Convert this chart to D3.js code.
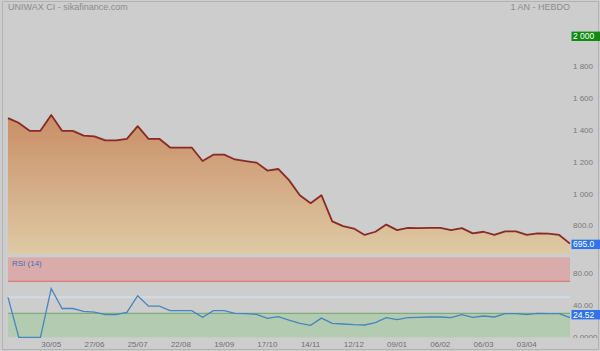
<!DOCTYPE html>
<html>
<head>
<meta charset="utf-8">
<script src="https://cdn.jsdelivr.net/npm/d3@7"></script>
<style>
  html, body { margin: 0; padding: 0; background: #cdcdcd; }
  svg { display: block; font-family: "Liberation Sans", Arial, sans-serif; }
</style>
</head>
<body>
<div id="chart"></div>
<script>
// weekly closes, 1 year
const prices = [1485, 1455, 1405, 1405, 1505, 1405, 1405, 1375, 1370, 1345,
	1345, 1355, 1435, 1355, 1355, 1300, 1300, 1300, 1215, 1255,
	1255, 1225, 1215, 1205, 1155, 1165, 1095, 1000, 950, 1000,
	835, 805, 790, 750, 770, 815, 780, 795, 793, 795,
	795, 780, 793, 760, 770, 750, 772, 772, 750, 760,
	758, 750, 695];
const rsi = [50, 0, 0, 0, 61, 36, 36, 32.5, 31.6, 28.3,
	28.3, 31.2, 52, 39, 39, 33.3, 33.3, 33.3, 25, 33.3,
	33.3, 30, 29.6, 28.7, 23.7, 25.8, 21.6, 17.5, 15, 24,
	17.5, 16.6, 15.8, 15.4, 18.3, 24.5, 22, 24.5, 25, 25.4,
	25.4, 24.5, 28.3, 25, 26.6, 25.4, 29.6, 29.6, 28.3, 30,
	29.6, 29.6, 24.52];
const tickWeeks = [4, 8, 12, 16, 20, 24, 28, 32, 36, 40, 44, 48];
const tickLabels = ["30/05", "27/06", "25/07", "22/08", "19/09", "17/10",
	"14/11", "12/12", "09/01", "06/02", "06/03", "03/04"];
const priceTicks = [1800, 1600, 1400, 1200, 1000, 800];
const priceTop = 2000;
const rsiTicks = [80, 40, 0];

const width = 600;
const height = 351;

const svg = d3.select("#chart").append("svg")
	.attr("width", width)
	.attr("height", height);

svg.append("rect")
	.attr("x", 2.5).attr("y", 1.5)
	.attr("width", width - 4).attr("height", height - 3)
	.attr("fill", "#cdcdcd")
	.attr("stroke", "#b3b3b3");

const x = d3.scaleLinear().domain([0, prices.length - 1]).range([8, 570]);
const y = d3.scaleLinear().domain([630, 2000]).range([254, 36.3]);
const yr = d3.scaleLinear().domain([0, 100]).range([337.3, 257.3]);

// titles
svg.append("text")
	.attr("x", 8).attr("y", 10)
	.attr("font-size", 9).attr("fill", "#8c8c8c")
	.text("UNIWAX CI - sikafinance.com");
svg.append("text")
	.attr("x", 570).attr("y", 10)
	.attr("text-anchor", "end")
	.attr("font-size", 9).attr("fill", "#8c8c8c")
	.text("1 AN - HEBDO");

// price area
const defs = svg.append("defs");
const grad = defs.append("linearGradient")
	.attr("id", "priceFill")
	.attr("gradientUnits", "userSpaceOnUse")
	.attr("x1", 0).attr("x2", 0)
	.attr("y1", 100).attr("y2", 254);
grad.append("stop").attr("offset", 0).attr("stop-color", "#c7875f");
grad.append("stop").attr("offset", 1).attr("stop-color", "#ddcaa5");

const area = d3.area()
	.x((d, i) => x(i))
	.y0(254)
	.y1(d => y(d));
const line = d3.line()
	.x((d, i) => x(i))
	.y(d => y(d));

svg.append("path")
	.datum(prices)
	.attr("d", area)
	.attr("fill", "url(#priceFill)");

svg.append("path")
	.datum(prices)
	.attr("d", line)
	.attr("fill", "none")
	.attr("stroke", "#8a2a24")
	.attr("stroke-width", 1.8)
	.attr("stroke-linejoin", "round");

// price axis
const fmtPrice = v => v >= 1000 ? d3.format(",")(v).replace(",", " ") : v.toFixed(1);
const priceAxis = svg.append("g")
	.attr("transform", "translate(570,0)")
	.call(d3.axisRight(y).tickValues(priceTicks).tickSize(0).tickPadding(3).tickFormat(fmtPrice));
priceAxis.select(".domain").remove();
priceAxis.selectAll("text")
	.attr("font-size", 8)
	.attr("font-family", "Liberation Sans, Arial, sans-serif")
	.attr("fill", "#7a7a7a")
	.attr("dy", "0.1em");

function valueBox(yPos, label, color) {
	svg.append("rect")
		.attr("x", 571.5).attr("y", yPos - 4.7)
		.attr("width", 29).attr("height", 9.4)
		.attr("fill", color);
	svg.append("text")
		.attr("x", 573).attr("y", yPos + 3)
		.attr("font-size", 8.5).attr("fill", "#ffffff")
		.text(label);
}
valueBox(y(priceTop), fmtPrice(priceTop), "#108a12");
valueBox(y(prices[prices.length - 1]) + 0.7, prices[prices.length - 1].toFixed(1), "#2f74e8");

// rsi panel
defs.append("clipPath").attr("id", "rsiClip")
	.append("rect").attr("x", 0).attr("y", 256).attr("width", width).attr("height", 82);

const rsiG = svg.append("g").attr("clip-path", "url(#rsiClip)");

rsiG.append("rect")
	.attr("x", x(0)).attr("y", yr(100))
	.attr("width", x(prices.length - 1) - x(0)).attr("height", yr(70) - yr(100))
	.attr("fill", "#d9abab");
rsiG.append("line")
	.attr("x1", x(0)).attr("x2", x(prices.length - 1))
	.attr("y1", yr(70)).attr("y2", yr(70))
	.attr("stroke", "#e06a6a").attr("stroke-width", 1);
rsiG.append("line")
	.attr("x1", x(0)).attr("x2", x(prices.length - 1))
	.attr("y1", yr(50)).attr("y2", yr(50))
	.attr("stroke", "#d2dbe4").attr("stroke-width", 2);
rsiG.append("rect")
	.attr("x", x(0)).attr("y", yr(30))
	.attr("width", x(prices.length - 1) - x(0)).attr("height", yr(0) - yr(30))
	.attr("fill", "#b3cbb1");
rsiG.append("line")
	.attr("x1", x(0)).attr("x2", x(prices.length - 1))
	.attr("y1", yr(30)).attr("y2", yr(30))
	.attr("stroke", "#6aa56a").attr("stroke-width", 1);

rsiG.append("path")
	.datum(rsi)
	.attr("d", d3.line().x((d, i) => x(i)).y(d => yr(d)))
	.attr("fill", "none")
	.attr("stroke", "#4585c0")
	.attr("stroke-width", 1.3);

svg.append("text")
	.attr("x", 12).attr("y", 266)
	.attr("font-size", 8).attr("fill", "#4a6cb5")
	.text("RSI (14)");

const rsiAxis = rsiG.append("g")
	.attr("transform", "translate(570,0)")
	.call(d3.axisRight(yr).tickValues(rsiTicks).tickSize(0).tickPadding(3)
		.tickFormat(v => v === 0 ? "0.0000" : v.toFixed(2)));
rsiAxis.select(".domain").remove();
rsiAxis.selectAll("text")
	.attr("font-size", 8)
	.attr("font-family", "Liberation Sans, Arial, sans-serif")
	.attr("fill", "#7a7a7a")
	.attr("dy", "0.25em");

// last rsi box
svg.append("rect")
	.attr("x", 571.5).attr("y", yr(rsi[rsi.length - 1]) - 7.7)
	.attr("width", 29).attr("height", 9.4)
	.attr("fill", "#2f74e8");
svg.append("text")
	.attr("x", 573).attr("y", yr(rsi[rsi.length - 1]))
	.attr("font-size", 8.5).attr("fill", "#ffffff")
	.text(rsi[rsi.length - 1].toFixed(2));

// x axis labels
svg.append("g").selectAll("text")
	.data(tickWeeks)
	.join("text")
	.attr("x", d => x(d))
	.attr("y", 347)
	.attr("text-anchor", "middle")
	.attr("font-size", 8)
	.attr("fill", "#707070")
	.text((d, i) => tickLabels[i]);
</script>
</body>
</html>
